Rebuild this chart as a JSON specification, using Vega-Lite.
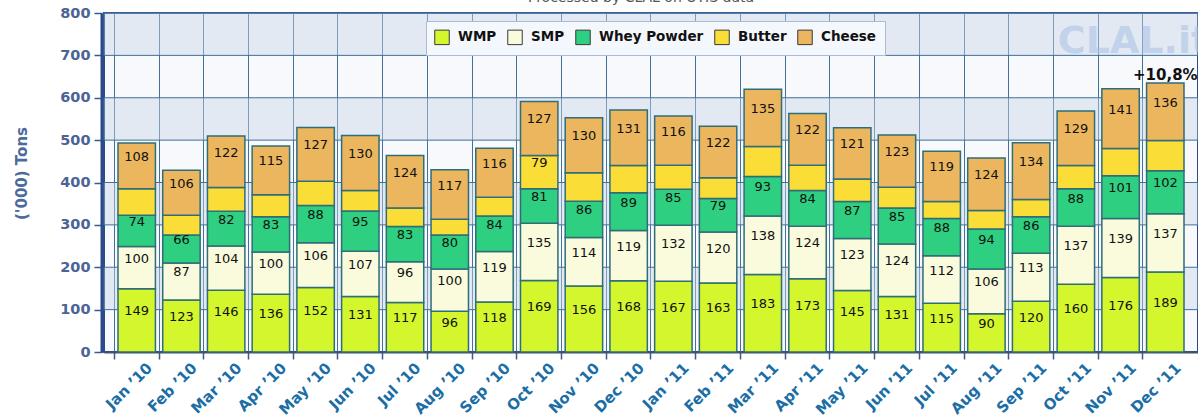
{
  "$schema": "https://vega.github.io/schema/vega-lite/v6.json",
  "width": 1094,
  "height": 339,
  "autosize": {"type": "none"},
  "padding": {"left": 104, "top": 13, "right": 0, "bottom": 66},
  "background": "white",
  "title": {"text": "Processed by CLAL on UTIS data", "anchor": "middle", "offset": -11, "baseline": "alphabetic", "fontSize": 14, "font": "DejaVu Sans", "fontWeight": "normal", "color": "#555555", "dx": -10},
  "config": {
    "view": {"fill": "#f7f9fd", "stroke": "#2e4c8a", "strokeWidth": 2},
    "font": "DejaVu Sans",
    "axisY": {"offset": 2, "tickCount": 8, "grid": false, "labelFont": "DejaVu Sans", "labelFontWeight": "bold", "labelFontSize": 14.5, "labelColor": "#4a6496", "labelPadding": 4, "tickColor": "#3d5a8c", "tickSize": 8, "tickWidth": 1.5, "domainColor": "#2d4a8a", "domainWidth": 4, "titleFont": "DejaVu Sans", "titleFontWeight": "bold", "titleFontSize": 15, "titleColor": "#4d6a9b", "titlePadding": 30},
    "axisX": {"bandPosition": -0.098, "labelAngle": -45, "labelAlign": "right", "labelBaseline": "middle", "labelOffset": 13, "labelPadding": 6, "labelFont": "DejaVu Sans", "labelFontWeight": "bold", "labelFontSize": 15, "labelColor": "#1b6ea5", "tickColor": "#3d5a8c", "tickSize": 7, "tickWidth": 1.5, "domainColor": "#44506a", "domainWidth": 2, "grid": true, "gridColor": "#41709b", "gridWidth": 1, "title": null}
  },
  "resolve": {"scale": {"y": "independent"}},
  "datasets": {
    "d": [
      {"m": "Jan ’10", "WMP": 149, "SMP": 100, "Whey Powder": 74, "Butter": 62, "Cheese": 108},
      {"m": "Feb ’10", "WMP": 123, "SMP": 87, "Whey Powder": 66, "Butter": 47, "Cheese": 106},
      {"m": "Mar ’10", "WMP": 146, "SMP": 104, "Whey Powder": 82, "Butter": 56, "Cheese": 122},
      {"m": "Apr ’10", "WMP": 136, "SMP": 100, "Whey Powder": 83, "Butter": 52, "Cheese": 115},
      {"m": "May ’10", "WMP": 152, "SMP": 106, "Whey Powder": 88, "Butter": 57, "Cheese": 127},
      {"m": "Jun ’10", "WMP": 131, "SMP": 107, "Whey Powder": 95, "Butter": 48, "Cheese": 130},
      {"m": "Jul ’10", "WMP": 117, "SMP": 96, "Whey Powder": 83, "Butter": 44, "Cheese": 124},
      {"m": "Aug ’10", "WMP": 96, "SMP": 100, "Whey Powder": 80, "Butter": 37, "Cheese": 117},
      {"m": "Sep ’10", "WMP": 118, "SMP": 119, "Whey Powder": 84, "Butter": 44, "Cheese": 116},
      {"m": "Oct ’10", "WMP": 169, "SMP": 135, "Whey Powder": 81, "Butter": 79, "Cheese": 127},
      {"m": "Nov ’10", "WMP": 156, "SMP": 114, "Whey Powder": 86, "Butter": 67, "Cheese": 130},
      {"m": "Dec ’10", "WMP": 168, "SMP": 119, "Whey Powder": 89, "Butter": 64, "Cheese": 131},
      {"m": "Jan ’11", "WMP": 167, "SMP": 132, "Whey Powder": 85, "Butter": 57, "Cheese": 116},
      {"m": "Feb ’11", "WMP": 163, "SMP": 120, "Whey Powder": 79, "Butter": 49, "Cheese": 122},
      {"m": "Mar ’11", "WMP": 183, "SMP": 138, "Whey Powder": 93, "Butter": 71, "Cheese": 135},
      {"m": "Apr ’11", "WMP": 173, "SMP": 124, "Whey Powder": 84, "Butter": 60, "Cheese": 122},
      {"m": "May ’11", "WMP": 145, "SMP": 123, "Whey Powder": 87, "Butter": 53, "Cheese": 121},
      {"m": "Jun ’11", "WMP": 131, "SMP": 124, "Whey Powder": 85, "Butter": 49, "Cheese": 123},
      {"m": "Jul ’11", "WMP": 115, "SMP": 112, "Whey Powder": 88, "Butter": 40, "Cheese": 119},
      {"m": "Aug ’11", "WMP": 90, "SMP": 106, "Whey Powder": 94, "Butter": 44, "Cheese": 124},
      {"m": "Sep ’11", "WMP": 120, "SMP": 113, "Whey Powder": 86, "Butter": 41, "Cheese": 134},
      {"m": "Oct ’11", "WMP": 160, "SMP": 137, "Whey Powder": 88, "Butter": 55, "Cheese": 129},
      {"m": "Nov ’11", "WMP": 176, "SMP": 139, "Whey Powder": 101, "Butter": 64, "Cheese": 141},
      {"m": "Dec ’11", "WMP": 189, "SMP": 137, "Whey Powder": 102, "Butter": 71, "Cheese": 136}
    ],
    "bands": [
      {"lo": 100, "hi": 200},
      {"lo": 300, "hi": 400},
      {"lo": 500, "hi": 600},
      {"lo": 700, "hi": 800}
    ]
  },
  "layer": [
    {
      "data": {"name": "bands"},
      "mark": {"type": "rect", "fill": "#c7d5e7", "fillOpacity": 0.45, "stroke": "#41709b", "strokeWidth": 1},
      "encoding": {
        "y": {"field": "lo", "type": "quantitative", "axis": null, "scale": {"domain": [0, 800], "nice": false}},
        "y2": {"field": "hi"}
      }
    },
    {
      "data": {"name": "d"},
      "transform": [{"fold": ["WMP", "SMP", "Whey Powder", "Butter", "Cheese"], "as": ["product", "value"]}],
      "mark": {"type": "bar", "stroke": "#2f6e78", "strokeWidth": 1.5},
      "encoding": {
        "x": {"field": "m", "type": "nominal", "sort": null, "title": null, "scale": {"paddingInner": 0.163, "paddingOuter": 0.313}},
        "y": {"field": "value", "type": "quantitative", "stack": "zero", "title": "('000) Tons", "axis": {"orient": "left", "titleY": 160}, "scale": {"domain": [0, 800], "nice": false}},
        "color": {
          "field": "product", "type": "nominal",
          "sort": ["WMP", "SMP", "Whey Powder", "Butter", "Cheese"],
          "scale": {"domain": ["WMP", "SMP", "Whey Powder", "Butter", "Cheese"], "range": ["#d4f62c", "#fafadc", "#2ecf80", "#fbdd38", "#ebb65e"]},
          "legend": {"orient": "none", "legendX": 322, "legendY": 8, "direction": "horizontal", "columns": 5, "title": null, "symbolType": "square", "symbolSize": 210, "symbolStrokeColor": "#3a3a3a", "symbolStrokeWidth": 1, "symbolOpacity": 1, "labelFont": "DejaVu Sans", "labelFontWeight": "bold", "labelFontSize": 13.5, "labelColor": "#111111", "labelOffset": 8, "columnPadding": 8, "padding": 8, "fillColor": "#f4f7fc", "strokeColor": "#a9bcd3", "cornerRadius": 0}
        },
        "order": {"field": "m", "type": "nominal"}
      }
    },
    {
      "data": {"name": "d"},
      "transform": [
        {"fold": ["WMP", "WMP", "SMP", "SMP", "Whey Powder", "Whey Powder", "Butter", "Butter", "Cheese", "Cheese"], "as": ["product", "value"]},
        {"window": [{"op": "row_number", "as": "rn"}], "groupby": ["m"]}
      ],
      "mark": {"type": "text", "font": "DejaVu Sans", "fontSize": 13, "fill": "#111111", "baseline": "middle", "dy": -9},
      "encoding": {
        "x": {"field": "m", "type": "nominal", "sort": null, "title": null},
        "y": {"field": "value", "type": "quantitative", "stack": "zero", "axis": null, "scale": {"domain": [0, 1600], "nice": false}},
        "detail": {"field": "rn", "type": "ordinal"},
        "order": {"field": "rn", "type": "quantitative"},
        "text": {"condition": {"test": "datum.rn % 2 === 0 || (datum.product === 'Butter' && datum.m !== 'Oct ’10')", "value": ""}, "field": "value", "type": "quantitative"}
      }
    },
    {
      "data": {"name": "d"},
      "transform": [
        {"filter": "datum.m === 'Dec ’11'"},
        {"fold": ["WMP", "SMP", "Whey Powder", "Butter", "Cheese"], "as": ["product", "value"]},
        {"aggregate": [{"op": "sum", "field": "value", "as": "total"}], "groupby": ["m"]}
      ],
      "mark": {"type": "text", "font": "DejaVu Sans", "fontWeight": "bold", "fontSize": 15, "fill": "#111111", "baseline": "middle", "dy": -8},
      "encoding": {
        "x": {"field": "m", "type": "nominal", "sort": null, "title": null},
        "y": {"field": "total", "type": "quantitative", "axis": null, "scale": {"domain": [0, 800], "nice": false}},
        "text": {"value": "+10,8%"}
      }
    },
    {
      "data": {"values": [{}]},
      "mark": {"type": "text", "font": "Liberation Sans Narrow, DejaVu Sans", "fontWeight": "bold", "fontSize": 38, "fill": "#a9c0e4", "opacity": 0.55, "align": "left", "baseline": "alphabetic", "dx": -18},
      "encoding": {
        "x": {"datum": "Oct ’11", "type": "nominal"},
        "y": {"datum": 705, "type": "quantitative", "axis": null, "scale": {"domain": [0, 800], "nice": false}},
        "text": {"value": "CLAL.it"}
      }
    }
  ]
}
